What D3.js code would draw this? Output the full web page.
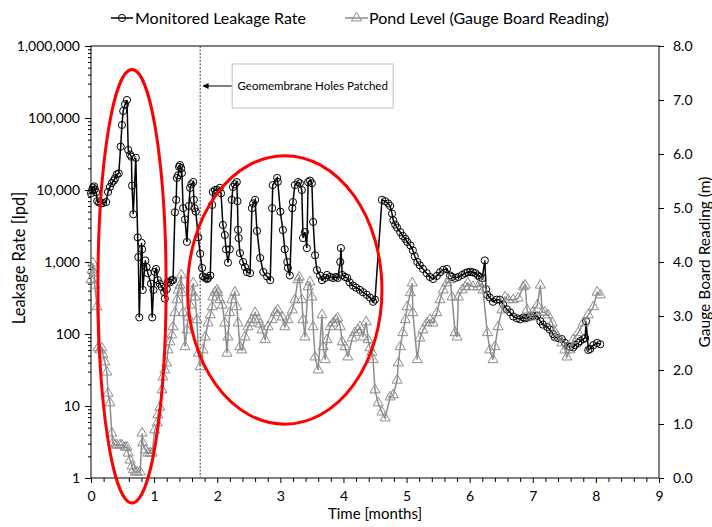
<!DOCTYPE html>
<html><head><meta charset="utf-8">
<script src="https://cdn.jsdelivr.net/npm/d3@7"></script>
<style>body{margin:0;background:#fff} text{font-family:Lato,'Open Sans',sans-serif;fill:#000}</style>
</head><body><svg id="c" width="712" height="527"></svg>
<script>
// ---------------- data ----------------
const seriesNames = ["Monitored Leakage Rate", "Pond Level (Gauge Board Reading)"];
const xTickValues = [0,1,2,3,4,5,6,7,8,9];
const leftTickValues = [1,10,100,1000,10000,100000,1000000];
const rightTickValues = [0,1,2,3,4,5,6,7,8];
const xTitle = "Time [months]";
const leftTitle = "Leakage Rate [lpd]";
const rightTitle = "Gauge Board Reading (m)";
const eventTime = 1.73;
const eventLabel = "Geomembrane Holes Patched";

const leakT = [0.00,0.02,0.03,0.05,0.06,0.08,0.10,0.13,0.16,0.19,0.24,0.27,0.30,0.33,0.36,0.38,0.41,0.44,0.47,0.49,
0.51,0.54,0.57,0.59,0.62,0.64,0.65,0.67,0.71,0.74,0.75,0.765,0.80,0.81,0.82,0.86,0.88,0.90,0.95,0.97,
0.99,1.01,1.03,1.06,1.09,1.12,1.16,1.17,1.20,1.22,1.25,1.28,1.30,1.33,1.35,1.36,1.38,1.395,1.41,1.43,
1.44,1.46,1.49,1.52,1.55,1.57,1.59,1.62,1.63,1.64,1.66,1.70,1.73,1.76,1.775,1.81,1.84,1.855,1.89,1.92,
1.93,1.965,2.00,2.04,2.06,2.09,2.12,2.14,2.17,2.20,2.23,2.25,2.28,2.31,2.32,2.33,2.34,2.36,2.41,2.44,
2.47,2.52,2.55,2.57,2.60,2.63,2.68,2.73,2.79,2.84,2.87,2.88,2.95,2.96,3.00,3.04,3.07,3.11,3.12,3.15,
3.19,3.20,3.23,3.28,3.31,3.34,3.36,3.39,3.42,3.44,3.47,3.50,3.52,3.55,3.58,3.63,3.66,3.71,3.74,3.79,
3.835,3.88,3.91,3.95,3.96,3.98,4.025,4.06,4.10,4.15,4.20,4.26,4.31,4.37,4.42,4.47,4.50,
4.61,4.66,4.71,4.74,4.77,4.79,4.82,4.85,4.90,4.94,4.98,5.01,5.06,5.10,5.13,5.17,5.21,5.26,5.32,5.37,
5.42,5.48,5.53,5.58,5.64,5.69,5.72,5.77,5.82,5.88,5.93,5.97,6.01,6.05,6.09,6.13,6.16,6.20,6.24,6.26,
6.28,6.32,6.37,6.43,6.48,6.53,6.59,6.64,6.69,6.75,6.80,6.85,6.88,6.93,6.96,7.00,7.07,7.12,7.16,7.23,
7.27,7.32,7.35,7.40,7.46,7.51,7.56,7.59,7.64,7.67,7.72,7.75,7.80,7.83,7.845,7.88,7.91,7.96,8.02,8.07];
const leakV = [9000,10000,10800,11200,10200,9300,7000,6700,6500,6600,6800,9400,11000,12500,13500,14500,16500,17000,40000,80000,
125000,155000,178000,36000,31000,29000,11500,4600,28000,2200,1170,170,1850,1500,410,1050,850,700,500,170,
410,730,800,560,500,450,380,310,420,530,520,560,560,4900,7300,14700,16000,21000,22200,20000,
17200,5600,3900,1900,6000,10700,12000,12900,7300,5600,5000,2200,1300,826,630,600,580,600,650,6200,
9400,10000,10000,10700,9000,3270,2370,1500,980,1500,7300,11000,12000,12900,7000,2800,2150,1330,1000,850,
726,700,5600,6500,7300,2700,1140,726,630,560,5600,11700,14700,13000,5000,2780,1500,1000,826,650,
5600,6800,11700,12900,12400,10000,2150,2600,1560,12900,13500,12400,3600,1240,770,650,560,600,660,620,
600,620,600,1000,1560,660,620,600,520,470,440,410,380,350,320,280,300,
7300,7000,6500,6000,4700,3800,3300,3000,2600,2300,2100,1900,1700,1450,1200,1000,900,800,700,620,
580,640,720,780,800,650,620,600,620,660,700,720,730,720,700,650,620,600,1050,420,
350,320,280,300,300,260,220,200,175,165,160,170,165,170,175,178,180,150,135,125,
115,100,90,88,85,75,68,66,65,70,75,80,85,88,150,60,62,70,75,72];

const pondT = [0.00,0.016,0.03,0.05,0.06,0.095,0.11,0.14,0.17,0.19,0.22,0.25,0.27,0.30,0.33,0.35,0.38,0.41,0.46,0.49,
0.54,0.57,0.59,0.62,0.65,0.67,0.70,0.73,0.78,0.81,0.82,0.86,0.90,0.935,0.97,1.01,1.05,1.06,1.09,1.125,
1.14,1.17,1.20,1.22,1.25,1.28,1.30,1.33,1.36,1.38,1.41,1.43,1.44,1.46,1.49,1.52,1.54,1.57,1.60,1.62,
1.65,1.68,1.70,1.73,1.775,1.81,1.855,1.89,1.92,1.93,1.965,2.00,2.01,2.04,2.08,2.12,2.155,2.17,2.20,2.23,
2.28,2.31,2.33,2.36,2.39,2.44,2.49,2.52,2.55,2.60,2.65,2.68,2.71,2.76,2.805,2.87,2.92,2.96,3.03,3.07,
3.12,3.19,3.23,3.28,3.30,3.34,3.36,3.39,3.44,3.47,3.50,3.52,3.55,3.60,3.66,3.68,3.71,3.74,3.79,3.835,
3.88,3.91,3.95,3.98,4.025,4.07,4.14,4.18,4.23,4.26,4.31,4.36,4.39,4.42,4.45,4.47,4.50,4.55,4.61,4.66,
4.74,4.79,4.85,4.87,4.90,4.94,4.98,5.01,5.06,5.09,5.10,5.17,5.21,5.26,5.32,5.37,5.42,5.48,5.53,5.58,
5.64,5.69,5.72,5.77,5.80,5.82,5.88,5.93,5.97,6.05,6.13,6.20,6.21,6.28,6.32,6.37,6.40,6.45,6.51,6.56,
6.61,6.69,6.77,6.85,6.88,6.91,6.96,7.00,7.07,7.12,7.15,7.19,7.24,7.31,7.35,7.40,7.46,7.51,7.54,7.59,
7.64,7.72,7.80,7.88,7.96,8.02,8.07];
const pondM = [3.67,3.85,3.98,3.80,3.57,3.17,2.41,2.37,2.41,2.28,2.15,1.96,1.57,1.39,0.83,0.65,0.61,0.61,0.61,0.61,
0.57,0.57,0.46,0.33,0.22,0.15,0.11,0.11,0.11,0.83,0.65,0.52,0.46,0.46,0.46,0.89,1.02,1.17,1.31,1.63,
1.87,2.00,2.13,2.37,2.52,2.65,2.80,3.06,3.30,3.48,3.57,3.76,3.43,3.06,2.43,2.74,2.98,3.20,3.44,3.61,
3.35,2.93,2.31,2.06,2.37,2.61,2.87,3.02,3.17,3.35,3.44,3.48,3.43,3.30,3.20,2.87,2.31,2.61,3.06,3.30,
3.44,3.17,2.87,2.43,2.37,2.61,2.80,2.87,2.93,3.06,2.93,2.85,2.74,2.56,2.80,2.93,3.06,3.11,2.98,2.80,
2.93,3.11,3.30,3.67,3.72,3.30,2.93,2.61,3.54,3.63,3.35,2.80,2.24,2.00,3.02,2.43,2.19,2.56,2.80,2.87,
2.93,2.96,2.80,2.52,2.43,2.24,2.59,2.69,2.74,2.80,2.61,2.89,2.56,2.41,2.33,2.19,1.63,1.39,1.22,1.11,
1.50,1.54,1.81,2.13,2.43,2.69,2.93,3.17,3.43,3.61,3.06,2.19,2.59,2.74,2.87,2.93,2.87,3.06,3.30,3.48,
3.61,3.67,3.35,2.69,2.61,3.35,3.48,3.54,3.61,3.54,3.54,3.61,3.48,2.69,2.37,2.19,2.43,2.80,3.11,3.35,
3.30,3.30,3.33,3.54,3.57,3.11,2.98,3.07,3.20,3.57,3.07,3.07,3.02,2.87,2.70,2.61,2.50,2.37,2.24,2.37,
2.56,2.69,2.87,3.02,3.17,3.44,3.39];

// highlight ellipses in data units: [tMin, tMax, lpdMin, lpdMax]
const ellipses = [[0.11, 1.19, 0.45, 470000], [1.53, 4.61, 5.6, 30000]];

// ---------------- layout ----------------
const W = 712, H = 527;
const m = {l:91, r:53, t:46, b:49};
const svg = d3.select("#c");
const x = d3.scaleLinear().domain([0,9]).range([m.l, W-m.r]);
const yL = d3.scaleLog().domain([1,1e6]).range([H-m.b, m.t]);
const yR = d3.scaleLinear().domain([0,8]).range([H-m.b, m.t]);
const leak = leakT.map((t,i)=>({t, v:leakV[i]}));
const pond = pondT.map((t,i)=>({t, v:pondM[i]}));
const grey = "#8c8c8c";

// minor ticks
const minorLeft = [];
for (let d=1; d<1e6; d*=10) for (let k=2;k<=9;k++) minorLeft.push(d*k);
const minorX = d3.range(0, 9.001, 0.2).filter(v=>Math.abs(v-Math.round(v))>1e-6);

const gMinL = svg.append("g").attr("transform",`translate(${m.l},0)`)
  .call(d3.axisLeft(yL).tickValues(minorLeft).tickSize(3).tickFormat(""));
const gL = svg.append("g").attr("transform",`translate(${m.l},0)`)
  .call(d3.axisLeft(yL).tickValues(leftTickValues).tickSize(6).tickPadding(5).tickFormat(d3.format(",")));
const gMinX = svg.append("g").attr("transform",`translate(0,${H-m.b})`)
  .call(d3.axisBottom(x).tickValues(minorX).tickSize(4).tickFormat(""));
const gX = svg.append("g").attr("transform",`translate(0,${H-m.b})`)
  .call(d3.axisBottom(x).tickValues(xTickValues).tickSize(5).tickPadding(8).tickFormat(d3.format("d")));
const gR = svg.append("g").attr("transform",`translate(${W-m.r},0)`)
  .call(d3.axisRight(yR).tickValues(rightTickValues).tickSize(5).tickPadding(9).tickFormat(d3.format(".1f")));
[gMinL,gL,gMinX,gX,gR].forEach(g=>{
  g.select(".domain").remove();
  g.selectAll("line").attr("stroke","#000");
  g.selectAll("text").style("font-size","14px").style("font-family","Lato");
});

// plot border
svg.append("rect").attr("x",m.l).attr("y",m.t).attr("width",W-m.l-m.r).attr("height",H-m.t-m.b)
  .attr("fill","none").attr("stroke","#000").attr("stroke-width",1);

// event line
svg.append("line").attr("x1",x(eventTime)).attr("x2",x(eventTime)).attr("y1",m.t).attr("y2",H-m.b)
  .attr("stroke","#404040").attr("stroke-width",1).attr("stroke-dasharray","2,1.5");

// series
const lineL = d3.line().x(d=>x(d.t)).y(d=>yL(d.v));
const lineR = d3.line().x(d=>x(d.t)).y(d=>yR(d.v));
svg.append("path").datum(leak).attr("d",lineL).attr("fill","none").attr("stroke","#000").attr("stroke-width",1.5);
svg.append("g").selectAll("circle").data(leak).join("circle")
  .attr("cx",d=>x(d.t)).attr("cy",d=>yL(d.v)).attr("r",3.6)
  .attr("fill","none").attr("stroke","#000").attr("stroke-width",1);
const tri = d3.symbol().type(d3.symbolTriangle).size(44);
svg.append("path").datum(pond).attr("d",lineR).attr("fill","none").attr("stroke",grey).attr("stroke-width",1.5);
svg.append("g").selectAll("path").data(pond).join("path")
  .attr("d",tri).attr("transform",d=>`translate(${x(d.t)},${yR(d.v)})`)
  .attr("fill","none").attr("stroke",grey).attr("stroke-width",1);

// annotation box + arrow
const bx = x(eventTime)+32, by = 64, bw = 161, bh = 44;
svg.append("defs").append("marker").attr("id","ah").attr("viewBox","0 0 10 10").attr("refX",9).attr("refY",5)
  .attr("markerWidth",6).attr("markerHeight",6).attr("orient","auto")
  .append("path").attr("d","M0,0 L10,5 L0,10 z").attr("fill","#000");
svg.append("line").attr("x1",bx).attr("x2",x(eventTime)+3).attr("y1",by+bh/2).attr("y2",by+bh/2)
  .attr("stroke","#000").attr("stroke-width",1).attr("marker-end","url(#ah)");
svg.append("rect").attr("x",bx).attr("y",by).attr("width",bw).attr("height",bh)
  .attr("fill","#fff").attr("stroke","#bfbfbf").attr("stroke-width",1);
svg.append("text").attr("x",bx+bw/2).attr("y",by+bh/2).attr("dy","0.35em").attr("text-anchor","middle")
  .style("font-size","11.5px").text(eventLabel);

// ellipses
ellipses.forEach(e=>{
  const x0=x(e[0]), x1=x(e[1]), y0=yL(e[2]), y1=yL(e[3]);
  svg.append("ellipse").attr("cx",(x0+x1)/2).attr("cy",(y0+y1)/2)
    .attr("rx",(x1-x0)/2).attr("ry",Math.abs(y0-y1)/2)
    .attr("fill","none").attr("stroke","#ff0000").attr("stroke-width",3);
});

// titles
svg.append("text").attr("x",(m.l+W-m.r)/2).attr("y",H-8).attr("text-anchor","middle")
  .style("font-size","15px").text(xTitle);
svg.append("text").attr("transform",`translate(25,${(m.t+H-m.b)/2-4}) rotate(-90)`).attr("text-anchor","middle")
  .style("font-size","16.5px").text(leftTitle);
svg.append("text").attr("transform",`translate(710,${(m.t+H-m.b)/2}) rotate(-90)`).attr("text-anchor","middle")
  .style("font-size","15.5px").text(rightTitle);

// legend
const lg = svg.append("g").attr("transform","translate(0,18)");
lg.append("line").attr("x1",111).attr("x2",133).attr("stroke","#000").attr("stroke-width",1.5);
lg.append("circle").attr("cx",122).attr("r",3.6).attr("fill","none").attr("stroke","#000");
lg.append("text").attr("x",135).attr("dy","0.35em").style("font-size","16px").text(seriesNames[0]);
lg.append("line").attr("x1",345).attr("x2",368).attr("stroke",grey).attr("stroke-width",1.5);
lg.append("path").attr("d",tri).attr("transform","translate(356.5,0)").attr("fill","none").attr("stroke",grey);
lg.append("text").attr("x",369).attr("dy","0.35em").style("font-size","16px").text(seriesNames[1]);
</script></body></html>
